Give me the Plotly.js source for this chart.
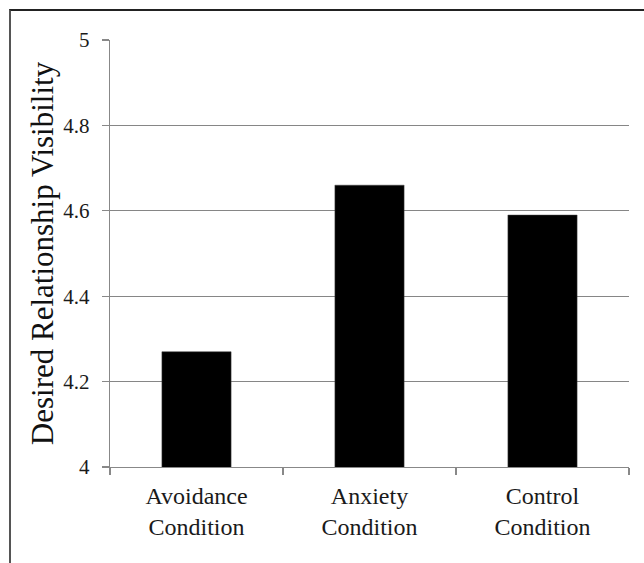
<!DOCTYPE html>
<html>
<head>
<meta charset="utf-8">
<script src="https://cdn.plot.ly/plotly-3.0.1.min.js"></script>
<style>
  html, body { margin: 0; padding: 0; background: #fff; }
  #wrap { position: relative; width: 644px; height: 563px; overflow: hidden; }
  #chart { width: 644px; height: 563px; }
  #frame { position: absolute; left: 9px; top: 9px; right: -5px; bottom: -5px;
           border-top: 2px solid #222; border-left: 2px solid #555; pointer-events: none; }
</style>
</head>
<body>
<div id="wrap">
  <div id="chart"></div>
  <div id="frame"></div>
</div>
<script>
const categories = ['Avoidance<br>Condition', 'Anxiety<br>Condition', 'Control<br>Condition'];
const values = [4.27, 4.66, 4.59];
const yTitle = 'Desired Relationship Visibility';

const serif = 'Liberation Serif';

const trace = {
  type: 'bar',
  x: categories,
  y: values,
  width: 0.4,
  marker: { color: '#000', line: { color: '#444', width: 0.5 } },
  hoverinfo: 'skip'
};

const layout = {
  width: 644,
  height: 563,
  margin: { l: 110, r: 15, t: 40, b: 96 },
  paper_bgcolor: '#fff',
  plot_bgcolor: '#fff',
  showlegend: false,
  font: { family: serif, color: '#222' },
  xaxis: {
    type: 'category',
    showline: true,
    linecolor: '#888',
    linewidth: 1.2,
    ticks: 'outside',
    tickson: 'boundaries',
    ticklen: 7,
    tickcolor: '#888',
    tickwidth: 1.2,
    showgrid: false,
    tickfont: { family: serif, size: 24, color: '#1a1a1a' },
    ticklabelstandoff: 7
  },
  yaxis: {
    range: [4, 5],
    dtick: 0.2,
    tick0: 4,
    showline: true,
    linecolor: '#888',
    linewidth: 1.2,
    ticks: 'outside',
    ticklen: 7,
    tickcolor: '#888',
    tickwidth: 1.2,
    showgrid: true,
    gridcolor: '#868686',
    gridwidth: 1.2,
    zeroline: false,
    tickfont: { family: serif, size: 21, color: '#1a1a1a' },
    ticklabelstandoff: 8,
    title: { text: yTitle, font: { family: serif, size: 31, color: '#111' }, standoff: 0 }
  }
};

Plotly.newPlot('chart', [trace], layout, { displayModeBar: false, staticPlot: true });
</script>
</body>
</html>
